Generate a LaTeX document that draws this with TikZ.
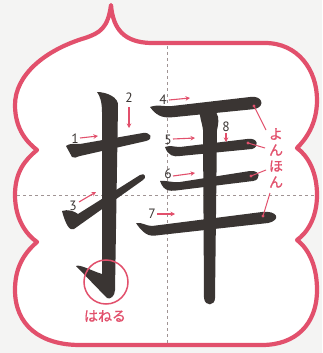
\documentclass[tikz,border=0pt]{standalone}
\usepackage{fontspec}
\setmainfont{PT Sans}
\newfontfamily\jpfont[FakeBold=0.8]{Noto Sans CJK JP}
\usetikzlibrary{arrows.meta}
\definecolor{frame}{HTML}{E2506C}
\definecolor{ink}{HTML}{3A3533}
\definecolor{guide}{HTML}{A09494}
\definecolor{paper}{HTML}{F4F4F3}
\tikzset{
  num/.style={font=\fontsize{13.5}{13.5}\selectfont,text=ink,inner sep=0pt},
  ar/.style={-{Stealth[length=4.5pt,width=4.5pt]},line width=1.1pt,draw=frame},
  lead/.style={line width=1pt,draw=frame},
  jp/.style={font=\jpfont\fontsize{14}{16}\selectfont,text=frame,align=center,inner sep=0pt},
  guideln/.style={draw=guide,dash pattern=on 3pt off 3pt,line width=0.6pt},
  strk/.style={fill=ink},
}

\begin{document}
\begin{tikzpicture}[x=1pt,y=-1pt]
  \useasboundingbox[fill=paper] (0,0) rectangle (322,353);
  % frame outline
  \path[fill=white,draw=frame,line width=4.2pt,line join=round]
    (111,5) .. controls (113,30) and (125,42) .. (150,43) -- (265,43)
    .. controls (298,43) and (317,70) .. (317,100)
    .. controls (317,125) and (305,140) .. (297,148)
    .. controls (308,156) and (317,172) .. (317,195)
    .. controls (317,218) and (307,233) .. (297,240)
    .. controls (310,250) and (317,268) .. (317,290)
    .. controls (317,325) and (295,345) .. (262,345) -- (80,345)
    .. controls (40,345) and (15,325) .. (15,290)
    .. controls (15,270) and (22,255) .. (37,242)
    .. controls (27,235) and (15,220) .. (15,195)
    .. controls (15,172) and (25,160) .. (37,150)
    .. controls (28,143) and (15,130) .. (15,105)
    .. controls (15,75) and (45,50) .. (85,38)
    .. controls (100,33) and (108,28) .. (111,5) -- cycle;
  % guide lines
  \draw[guideln] (167,46) -- (167,343);
  \draw[guideln] (17,195) -- (315,195);
  % strokes of the character
  \fill[strk] (66,146) .. controls (70,143) and (74,144) .. (80,144) -- (143,133)
    .. controls (151,132) and (154,139) .. (146,141) -- (80,156)
    .. controls (76,157) and (74,159) .. (72,157) -- cycle;
  \fill[strk] (97,92) .. controls (106,92) and (119,97) .. (118,106) -- (115,290)
    .. controls (115,296) and (110,300) .. (107,298) -- (76,266)
    .. controls (80,264) and (92,271) .. (102,274) -- (102,112)
    .. controls (102,102) and (100,96) .. (97,92) -- cycle;
  \fill[strk] (62,211) .. controls (68,209) and (74,211) .. (78,214) -- (140,175)
    .. controls (145,172) and (147,178) .. (143,180) -- (74,229)
    .. controls (70,231) and (66,226) .. (62,211) -- cycle;
  \fill[strk] (150,107) .. controls (158,104) and (165,107) .. (172,106) -- (250,97)
    .. controls (262,95) and (266,106) .. (255,109) -- (175,117)
    .. controls (165,118) and (158,118) .. (150,107) -- cycle;
  \fill[strk] (165,147) .. controls (170,145) and (175,147) .. (180,147) -- (247,139)
    .. controls (258,137) and (260,147) .. (252,149) -- (180,156)
    .. controls (174,157) and (168,156) .. (165,147) -- cycle;
  \fill[strk] (160,181) .. controls (166,180) and (172,183) .. (180,182) -- (250,171)
    .. controls (261,170) and (261,180) .. (253,181) -- (180,190)
    .. controls (172,191) and (164,193) .. (160,181) -- cycle;
  \fill[strk] (136,223) .. controls (142,222) and (146,226) .. (152,226) -- (262,212)
    .. controls (277,210) and (282,220) .. (268,223) -- (160,235)
    .. controls (152,236) and (146,238) .. (136,223) -- cycle;
  \fill[strk] (200,111) -- (216,112) .. controls (220,118) and (218,125) .. (217,130)
    -- (215,298) .. controls (215,306) and (205,307) .. (204,298) -- (203,130)
    .. controls (202,122) and (199,116) .. (200,111) -- cycle;
  % stroke numbers with arrows
  \foreach \i/\nx/\ny/\sx/\sy/\ex/\ey in {
      1/75/139/80/138/98/136, 2/129/98/129/107/129/128,
      3/73/206/79/202/96/192, 4/163/100/169/100/190/98,
      5/168/140/173/139/195/138, 6/168/174/173/176/195/173,
      7/152/214/157/214/175/214, 8/226/127/226/133/226/142} {
    \node[num] (n\i) at (\nx,\ny) {\i};
    \coordinate (s\i) at (\sx,\sy);
    \coordinate (e\i) at (\ex,\ey);
    \draw[ar] (s\i) -- (e\i);
  }
  % yonhon label with leaders
  \node[jp] (yonhon) at (276,158) {よ\\ん\\ほ\\ん};
  \foreach \i/\dx/\dy/\lx/\ly in {4/254/106/266/130, 5/248/143/265/148,
      6/251/176/266/170, 7/263/216/270/193} {
    \coordinate (d\i) at (\dx,\dy);
    \coordinate (l\i) at (\lx,\ly);
    \draw[lead] (d\i) -- (l\i);
    \fill[frame] (d\i) circle (1.7);
  }
  % hane mark
  \node[draw=frame,line width=1.5pt,circle,minimum size=44pt,inner sep=0pt] (hane) at (106,282) {};
  \node[jp] (hanelbl) at (105,316) {はねる};
\end{tikzpicture}
\end{document}
